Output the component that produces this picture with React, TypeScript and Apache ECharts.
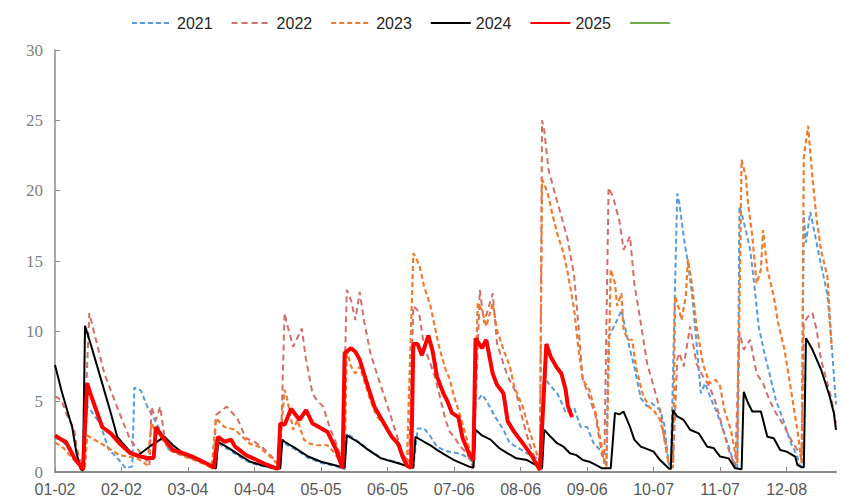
import React, { useEffect, useRef } from "react";
import * as echarts from "echarts";

// Category axis: every day of a (leap) calendar year, 01-02 .. 12-31
const monthLengths = [31, 29, 31, 30, 31, 30, 31, 31, 30, 31, 30, 31];
const categories: string[] = [];
for (let m = 0; m < 12; m++) {
  for (let d = 1; d <= monthLengths[m]; d++) {
    if (m === 0 && d === 1) continue;
    categories.push(String(m + 1).padStart(2, "0") + "-" + String(d).padStart(2, "0"));
  }
}

const yTicks = [0, 5, 10, 15, 20, 25, 30];

type Pt = [string, number];

const s2021: Pt[] = [
  ["01-02", 2.4], ["01-05", 2.3], ["01-09", 1.5], ["01-13", 0.5], ["01-15", 0.2], ["01-17", 4.7], ["01-19", 4.3],
  ["01-23", 3.45], ["01-27", 1.6], ["01-31", 1.0], ["02-04", 0.26], ["02-07", 0.4], ["02-08", 6.0], ["02-11", 5.8],
  ["02-14", 4.65], ["02-20", 3.0], ["02-24", 1.6], ["03-05", 1.0], ["03-14", 0.5], ["03-17", 0.2], ["03-18", 2.0],
  ["03-23", 1.6], ["03-28", 1.1], ["04-02", 0.65], ["04-07", 0.45], ["04-15", 0.2], ["04-17", 2.1], ["04-23", 1.6],
  ["04-29", 1.0], ["05-05", 0.65], ["05-11", 0.45], ["05-16", 0.2], ["05-17", 2.75], ["05-22", 2.2], ["05-27", 1.6],
  ["06-02", 1.0], ["06-10", 0.65], ["06-17", 0.3], ["06-19", 3.1], ["06-22", 3.1], ["06-24", 2.75], ["06-28", 1.8],
  ["07-02", 1.5], ["07-07", 1.35], ["07-09", 1.3], ["07-13", 0.97], ["07-15", 0.62], ["07-16", 4.9], ["07-19", 5.5],
  ["07-21", 5.1], ["07-25", 3.95], ["07-29", 3.0], ["08-01", 2.05], ["08-04", 1.8], ["08-09", 1.33], ["08-12", 1.1],
  ["08-15", 0.9], ["08-17", 6.8], ["08-19", 6.3], ["08-23", 5.6], ["08-26", 4.65], ["08-27", 4.2], ["08-31", 4.55],
  ["09-03", 3.2], ["09-06", 3.2], ["09-09", 2.05], ["09-12", 1.57], ["09-14", 0.85], ["09-15", 0.38], ["09-16", 9.6],
  ["09-20", 10.8], ["09-22", 11.5], ["09-24", 10.1], ["09-26", 8.7], ["09-28", 7.5], ["10-01", 5.25], ["10-04", 4.65],
  ["10-06", 4.9], ["10-10", 4.4], ["10-12", 3.35], ["10-14", 0.62], ["10-15", 0.26], ["10-18", 19.8], ["10-19", 19.1],
  ["10-21", 16.75], ["10-23", 14.85], ["10-25", 12.5], ["10-27", 9.15], ["10-29", 5.6], ["10-31", 6.3], ["11-03", 5.1],
  ["11-05", 4.4], ["11-08", 3.2], ["11-11", 1.8], ["11-14", 0.38], ["11-15", 0.3], ["11-16", 18.9], ["11-18", 17.8],
  ["11-21", 15.8], ["11-23", 13.2], ["11-25", 10.3], ["11-28", 8.2], ["11-30", 7.0], ["12-03", 5.1], ["12-07", 3.45],
  ["12-10", 2.05], ["12-13", 1.1], ["12-14", 0.5], ["12-15", 0.4], ["12-16", 18.2], ["12-17", 16.3], ["12-19", 18.5],
  ["12-23", 15.5], ["12-27", 12.6], ["12-29", 9.0], ["12-31", 4.8],
];

const s2022: Pt[] = [
  ["01-02", 5.4], ["01-05", 5.1], ["01-08", 3.9], ["01-11", 3.0], ["01-12", 1.8], ["01-14", 0.64], ["01-15", 0.26],
  ["01-18", 11.3], ["01-25", 7.0], ["02-01", 4.2], ["02-06", 2.3], ["02-11", 1.35], ["02-15", 0.5], ["02-16", 4.65],
  ["02-18", 3.7], ["02-20", 4.65], ["02-22", 2.5], ["02-26", 1.6], ["03-02", 1.2], ["03-06", 1.0], ["03-11", 0.7],
  ["03-15", 0.35], ["03-16", 0.3], ["03-17", 4.05], ["03-22", 4.65], ["03-27", 3.8], ["03-31", 2.4], ["04-04", 2.15],
  ["04-08", 1.7], ["04-12", 1.1], ["04-14", 0.73], ["04-16", 0.5], ["04-18", 11.3], ["04-19", 10.6], ["04-22", 8.9],
  ["04-26", 10.2], ["04-28", 8.0], ["05-01", 5.6], ["05-03", 5.1], ["05-06", 4.65], ["05-09", 3.2], ["05-12", 2.05],
  ["05-15", 0.85], ["05-17", 12.95], ["05-19", 12.2], ["05-21", 10.8], ["05-23", 12.8], ["05-25", 10.8], ["05-28", 8.45],
  ["05-31", 7.0], ["06-03", 5.6], ["06-06", 4.2], ["06-09", 2.75], ["06-12", 1.33], ["06-15", 0.62], ["06-17", 11.8],
  ["06-19", 11.5], ["06-20", 11.05], ["06-22", 8.9], ["06-25", 7.7], ["06-27", 6.8], ["06-29", 5.6], ["07-02", 3.7],
  ["07-04", 2.85], ["07-06", 2.5], ["07-09", 1.8], ["07-12", 1.33], ["07-14", 0.62], ["07-15", 0.4], ["07-18", 12.95],
  ["07-20", 10.6], ["07-24", 12.7], ["07-26", 9.15], ["07-29", 7.7], ["07-31", 6.8], ["08-04", 5.6], ["08-07", 3.7],
  ["08-10", 2.05], ["08-13", 0.85], ["08-15", 0.38], ["08-16", 25.0], ["08-17", 24.3], ["08-19", 21.5], ["08-22", 19.8],
  ["08-25", 18.2], ["08-28", 16.5], ["08-31", 13.9], ["09-02", 10.3], ["09-04", 6.55], ["09-07", 5.35], ["09-10", 3.95],
  ["09-12", 2.05], ["09-14", 0.62], ["09-16", 20.2], ["09-18", 19.6], ["09-21", 17.9], ["09-23", 15.8], ["09-26", 16.75],
  ["09-28", 13.4], ["10-01", 10.6], ["10-04", 7.7], ["10-07", 6.1], ["10-10", 4.4], ["10-12", 2.3], ["10-14", 0.62],
  ["10-16", 0.3], ["10-18", 8.0], ["10-19", 8.45], ["10-21", 7.5], ["10-24", 10.35], ["10-27", 7.7], ["10-30", 6.8],
  ["11-02", 6.1], ["11-05", 4.9], ["11-08", 3.2], ["11-11", 1.57], ["11-14", 0.38], ["11-16", 9.9], ["11-18", 8.7],
  ["11-21", 9.4], ["11-24", 7.0], ["11-27", 6.3], ["11-30", 5.1], ["12-03", 4.2], ["12-07", 3.2], ["12-10", 2.3],
  ["12-13", 1.57], ["12-15", 1.1], ["12-16", 10.6], ["12-18", 11.05], ["12-20", 11.3], ["12-22", 10.1], ["12-24", 8.0],
  ["12-27", 6.3], ["12-29", 5.1], ["12-31", 3.45],
];

const s2023: Pt[] = [
  ["01-02", 2.1], ["01-06", 1.7], ["01-10", 1.0], ["01-14", 0.38], ["01-16", 0.3], ["01-17", 2.6], ["01-26", 1.8],
  ["02-01", 1.2], ["02-09", 1.0], ["02-14", 0.5], ["02-16", 3.5], ["02-18", 2.8], ["02-21", 2.3], ["02-25", 1.5],
  ["03-02", 1.1], ["03-06", 0.9], ["03-11", 0.6], ["03-15", 0.3], ["03-17", 3.8], ["03-21", 3.2], ["03-26", 3.0],
  ["03-30", 2.4], ["04-02", 2.0], ["04-06", 1.8], ["04-09", 1.4], ["04-12", 1.0], ["04-15", 0.5], ["04-18", 5.85],
  ["04-19", 5.35], ["04-22", 3.0], ["04-24", 3.7], ["04-27", 2.3], ["04-30", 2.0], ["05-03", 1.9], ["05-08", 1.9],
  ["05-11", 1.4], ["05-14", 0.73], ["05-16", 0.5], ["05-17", 8.7], ["05-19", 7.5], ["05-21", 7.0], ["05-23", 7.5],
  ["05-25", 6.55], ["05-28", 5.1], ["05-31", 3.95], ["06-03", 3.45], ["06-06", 2.75], ["06-09", 2.05], ["06-12", 1.33],
  ["06-14", 0.62], ["06-17", 15.55], ["06-18", 15.3], ["06-20", 14.6], ["06-22", 13.2], ["06-25", 11.8], ["06-27", 10.35],
  ["06-29", 8.9], ["07-02", 7.3], ["07-04", 6.6], ["07-06", 5.35], ["07-09", 3.95], ["07-12", 2.3], ["07-15", 0.62],
  ["07-17", 12.0], ["07-19", 11.5], ["07-21", 10.35], ["07-24", 12.0], ["07-26", 10.1], ["07-29", 8.7], ["08-01", 7.5],
  ["08-03", 6.1], ["08-07", 4.65], ["08-10", 3.0], ["08-13", 1.57], ["08-15", 0.62], ["08-16", 20.8], ["08-17", 20.5],
  ["08-19", 19.6], ["08-21", 18.2], ["08-23", 17.0], ["08-26", 15.55], ["08-28", 14.15], ["08-31", 11.5], ["09-02", 8.7],
  ["09-04", 6.55], ["09-07", 5.85], ["09-10", 4.2], ["09-12", 2.5], ["09-14", 0.85], ["09-15", 0.4], ["09-17", 14.4],
  ["09-19", 13.4], ["09-20", 11.8], ["09-22", 12.7], ["09-23", 10.1], ["09-25", 9.4], ["09-27", 9.4], ["09-29", 7.3],
  ["10-02", 5.5], ["10-05", 4.6], ["10-07", 4.4], ["10-10", 3.7], ["10-12", 2.5], ["10-14", 0.62], ["10-16", 0.4],
  ["10-17", 12.5], ["10-19", 11.5], ["10-20", 10.8], ["10-22", 12.5], ["10-23", 15.1], ["10-25", 13.2], ["10-27", 10.35],
  ["10-30", 7.7], ["11-02", 6.3], ["11-05", 6.55], ["11-07", 6.1], ["11-09", 4.4], ["11-12", 3.0], ["11-14", 1.33],
  ["11-15", 0.62], ["11-17", 22.2], ["11-19", 21.0], ["11-20", 19.1], ["11-22", 16.75], ["11-24", 13.4], ["11-26", 14.4],
  ["11-27", 17.2], ["11-29", 14.4], ["12-02", 12.5], ["12-04", 10.6], ["12-07", 8.7], ["12-09", 6.8], ["12-11", 4.9],
  ["12-13", 3.0], ["12-15", 0.62], ["12-16", 22.4], ["12-18", 24.6], ["12-20", 21.0], ["12-22", 17.9], ["12-24", 15.8],
  ["12-27", 13.9], ["12-29", 8.8],
];

const s2024: Pt[] = [
  ["01-02", 7.6], ["01-05", 5.8], ["01-09", 3.7], ["01-10", 3.2], ["01-12", 1.35], ["01-14", 0.2], ["01-15", 0.1],
  ["01-16", 10.4], ["01-18", 9.4], ["01-19", 8.9], ["01-24", 6.3], ["01-28", 4.2], ["01-31", 2.5], ["02-06", 1.45],
  ["02-09", 1.1], ["02-15", 1.8], ["02-22", 2.5], ["02-26", 1.9], ["03-02", 1.3], ["03-06", 1.05], ["03-11", 0.7],
  ["03-15", 0.4], ["03-17", 0.25], ["03-18", 2.15], ["03-23", 1.7], ["03-28", 1.2], ["04-02", 0.73], ["04-07", 0.5],
  ["04-13", 0.26], ["04-16", 0.25], ["04-17", 2.3], ["04-18", 2.15], ["04-23", 1.7], ["04-29", 1.1], ["05-05", 0.73],
  ["05-11", 0.5], ["05-16", 0.3], ["05-17", 2.6], ["05-22", 2.15], ["05-27", 1.57], ["06-02", 0.97], ["06-10", 0.62],
  ["06-16", 0.33], ["06-17", 0.3], ["06-18", 2.5], ["06-22", 2.15], ["06-25", 1.9], ["06-28", 1.57], ["07-02", 1.2],
  ["07-06", 0.85], ["07-13", 0.38], ["07-15", 0.3], ["07-16", 3.0], ["07-19", 2.6], ["07-23", 2.3], ["07-27", 1.7],
  ["07-31", 1.33], ["08-04", 0.97], ["08-09", 0.85], ["08-13", 0.5], ["08-16", 0.26], ["08-17", 3.0], ["08-20", 2.5],
  ["08-23", 2.05], ["08-26", 1.8], ["08-29", 1.33], ["09-01", 1.2], ["09-04", 0.85], ["09-07", 0.73], ["09-10", 0.5],
  ["09-13", 0.26], ["09-17", 0.26], ["09-19", 4.2], ["09-21", 4.1], ["09-23", 4.3], ["09-26", 3.2], ["09-28", 2.3],
  ["10-01", 1.8], ["10-05", 1.57], ["10-07", 1.45], ["10-10", 0.85], ["10-14", 0.26], ["10-15", 0.2], ["10-16", 4.4],
  ["10-18", 3.95], ["10-21", 3.7], ["10-24", 3.0], ["10-28", 2.75], ["11-01", 1.8], ["11-04", 1.7], ["11-07", 1.1],
  ["11-11", 0.97], ["11-14", 0.26], ["11-17", 0.2], ["11-18", 5.7], ["11-20", 4.9], ["11-22", 4.3], ["11-26", 4.3],
  ["11-29", 2.5], ["12-02", 2.4], ["12-05", 1.57], ["12-08", 1.45], ["12-12", 1.1], ["12-13", 0.5], ["12-15", 0.33],
  ["12-16", 0.33], ["12-17", 9.5], ["12-20", 8.7], ["12-24", 7.3], ["12-28", 5.4], ["12-30", 4.2], ["12-31", 3.0],
];

const s2025: Pt[] = [
  ["01-02", 2.6], ["01-05", 2.3], ["01-07", 2.15], ["01-09", 1.6], ["01-11", 1.0], ["01-14", 0.4], ["01-15", 0.15],
  ["01-17", 6.3], ["01-19", 5.35], ["01-24", 3.2], ["01-28", 2.75], ["02-01", 2.05], ["02-06", 1.35], ["02-11", 1.1],
  ["02-14", 1.0], ["02-17", 1.0], ["02-18", 3.2], ["02-21", 2.5], ["02-26", 1.57], ["03-02", 1.33], ["03-06", 1.1],
  ["03-11", 0.73], ["03-14", 0.5], ["03-16", 0.3], ["03-18", 2.5], ["03-21", 2.15], ["03-24", 2.3], ["03-26", 1.8],
  ["03-31", 1.2], ["04-05", 0.85], ["04-10", 0.5], ["04-14", 0.26], ["04-15", 0.25], ["04-16", 3.45], ["04-18", 3.35],
  ["04-21", 4.5], ["04-25", 3.7], ["04-28", 4.4], ["05-01", 3.45], ["05-04", 3.2], ["05-08", 2.85], ["05-12", 1.6],
  ["05-15", 0.26], ["05-16", 8.45], ["05-19", 8.8], ["05-21", 8.55], ["05-23", 8.0], ["05-25", 7.0], ["05-27", 6.0],
  ["05-30", 4.6], ["06-02", 3.8], ["06-05", 3.0], ["06-07", 2.5], ["06-10", 2.0], ["06-12", 1.1], ["06-14", 0.45],
  ["06-16", 0.3], ["06-17", 9.1], ["06-19", 9.1], ["06-21", 8.3], ["06-24", 9.7], ["06-26", 8.6], ["06-28", 6.8],
  ["07-01", 5.6], ["07-03", 5.0], ["07-05", 4.2], ["07-08", 3.9], ["07-10", 2.4], ["07-13", 1.3], ["07-15", 0.85],
  ["07-16", 9.5], ["07-19", 8.8], ["07-21", 9.4], ["07-24", 7.0], ["07-26", 6.2], ["07-29", 5.6], ["07-31", 3.6],
  ["08-03", 2.85], ["08-07", 2.05], ["08-11", 1.2], ["08-14", 0.4], ["08-15", 0.15], ["08-18", 9.1], ["08-20", 8.2],
  ["08-23", 7.4], ["08-25", 7.0], ["08-27", 5.85], ["08-28", 4.7], ["08-30", 3.9],
];

const sExtra: Pt[] = [];

const toArray = (pts: Pt[]) => {
  const arr: (number | null)[] = categories.map(() => null);
  pts.forEach(([d, v]) => {
    const i = categories.indexOf(d);
    if (i >= 0) arr[i] = v;
  });
  return arr;
};

const NARROW = "Liberation Sans Narrow, Arial Narrow, Liberation Sans, sans-serif";
const SERIF = "serif";

export default function App() {
  const ref = useRef<HTMLDivElement>(null);
  useEffect(() => {
    if (!ref.current) return;
    const chart = echarts.init(ref.current, undefined, { renderer: "svg" });
    const mk = (name: string, pts: Pt[], color: string, width: number, type: any) => ({
      name,
      type: "line",
      data: toArray(pts),
      connectNulls: true,
      symbol: "none",
      showSymbol: false,
      legendIcon: "none",
      itemStyle: { color },
      lineStyle: { color, width, type },
      emphasis: { disabled: true },
    });
    chart.setOption({
      animation: false,
      backgroundColor: "#ffffff",
      legend: {
        left: 126,
        top: 10,
        itemWidth: 40,
        itemHeight: 14,
        itemGap: 18,
        selectedMode: false,
        itemStyle: { opacity: 0 },
        textStyle: { fontFamily: NARROW, fontSize: 16, color: "#262626" },
        data: ["2021", "2022", "2023", "2024", "2025", " "],
      },
      grid: { left: 55, right: 8, top: 50, bottom: 26, containLabel: false },
      xAxis: {
        type: "category",
        data: categories,
        boundaryGap: false,
        axisLine: { lineStyle: { color: "#8c8c8c", width: 2 } },
        axisTick: { inside: true, length: 5, interval: 30, lineStyle: { color: "#8c8c8c", width: 1 } },
        axisLabel: { interval: 30, margin: 9, fontFamily: NARROW, fontSize: 16, color: "#595959" },
        splitLine: { show: false },
      },
      yAxis: {
        type: "value",
        min: yTicks[0],
        max: yTicks[yTicks.length - 1],
        interval: 5,
        axisLine: { show: true, lineStyle: { color: "#8c8c8c", width: 1.5 } },
        axisTick: { show: true, inside: true, length: 5, lineStyle: { color: "#8c8c8c" } },
        axisLabel: {
          margin: 12,
          color: "#7f7f7f",
          formatter: (v: number) => "{s|" + v + "}",
          rich: { s: { fontFamily: SERIF, fontSize: 17, color: "#7f7f7f" } },
        },
        splitLine: { show: false },
      },
      series: [
        mk("2021", s2021, "#5B9BD5", 2, [5, 3]),
        mk("2022", s2022, "#D0706C", 2, [6, 4]),
        mk("2023", s2023, "#ED7D31", 2.2, [5, 3]),
        mk("2024", s2024, "#000000", 2, "solid"),
        mk("2025", s2025, "#FF0000", 4, "solid"),
        mk(" ", sExtra, "#70AD47", 4, "solid"),
      ],
    });
    return () => chart.dispose();
  }, []);
  return (
    <div
      ref={ref}
      style={{ position: "fixed", left: 0, top: 0, width: 844, height: 498, background: "#fff" }}
    />
  );
}
